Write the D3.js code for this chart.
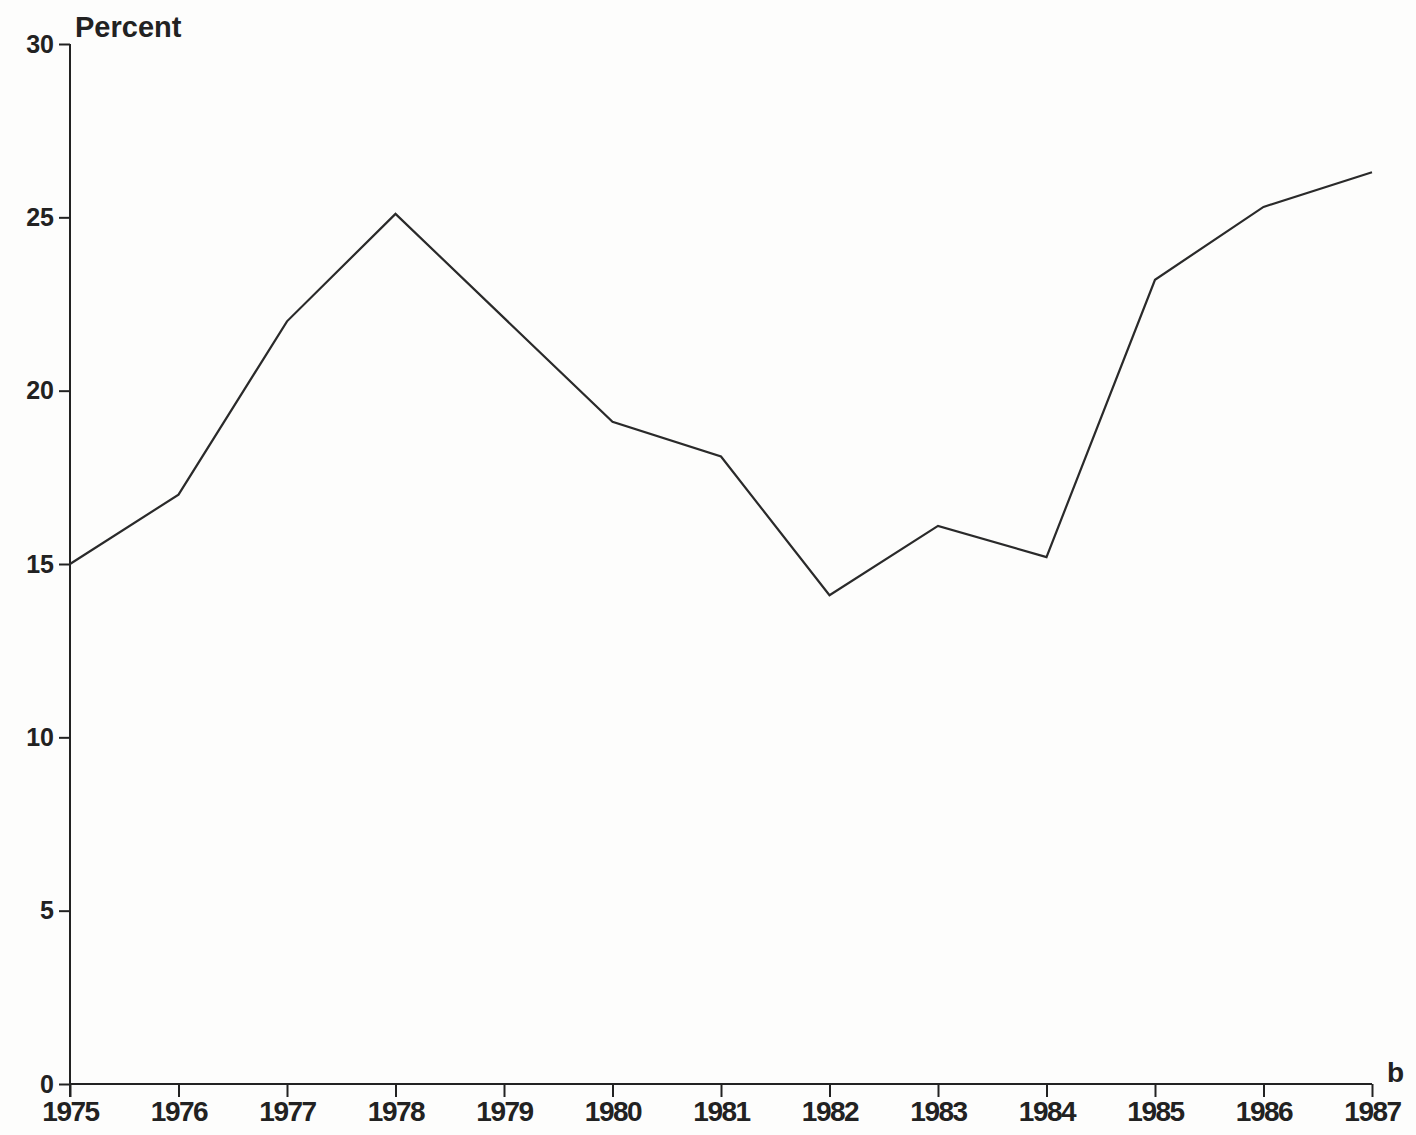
<!DOCTYPE html>
<html>
<head>
<meta charset="utf-8">
<script src="https://cdn.jsdelivr.net/npm/d3@7"></script>
<style>
  html, body { margin: 0; padding: 0; background: #fdfdfc; }
  svg text { font-family: "Liberation Sans", Arial, sans-serif; font-weight: bold; fill: #222; }
</style>
</head>
<body>
<svg id="chart" width="1416" height="1135"></svg>
<script>
const years = [1975, 1976, 1977, 1978, 1979, 1980, 1981, 1982, 1983, 1984, 1985, 1986, 1987];
const percent = [15.0, 17.0, 22.0, 25.1, 22.1, 19.1, 18.1, 14.1, 16.1, 15.2, 23.2, 25.3, 26.3];
const yTicks = [0, 5, 10, 15, 20, 25, 30];
const yLabel = "Percent";
const xLabel = "b";

const svg = d3.select("#chart");
const plotLeft = 70, plotRight = 1372, plotTop = 44, plotBottom = 1084;

const x = d3.scaleLinear().domain([1975, 1987]).range([plotLeft, plotRight]);
const y = d3.scaleLinear().domain([0, 30]).range([plotBottom, plotTop]);

// y axis
const yAxis = svg.append("g").attr("transform", `translate(${plotLeft},0)`)
  .call(d3.axisLeft(y).tickValues(yTicks).tickSize(11).tickPadding(5).tickFormat(d3.format("d")));
yAxis.select(".domain").remove();
yAxis.append("line").attr("x1", 0).attr("x2", 0).attr("y1", y(30)).attr("y2", plotBottom + 13)
  .attr("stroke", "#222").attr("stroke-width", 2);
yAxis.selectAll(".tick line").attr("stroke", "#222").attr("stroke-width", 2);
yAxis.selectAll(".tick text").attr("font-size", 25).attr("fill", "#222").attr("font-family", null);

// x axis
const xAxis = svg.append("g").attr("transform", `translate(0,${plotBottom})`)
  .call(d3.axisBottom(x).tickValues(years).tickSize(13).tickPadding(4).tickFormat(d3.format("d")));
xAxis.select(".domain").remove();
xAxis.append("line").attr("x1", plotLeft).attr("x2", plotRight).attr("y1", 0).attr("y2", 0)
  .attr("stroke", "#222").attr("stroke-width", 2);
xAxis.selectAll(".tick line").attr("stroke", "#222").attr("stroke-width", 2);
xAxis.selectAll(".tick text").attr("font-size", 28).attr("letter-spacing", -1.5).attr("fill", "#222").attr("font-family", null);

// axis titles
svg.append("text").attr("x", plotLeft + 5).attr("y", 37).attr("font-size", 29).text(yLabel);
svg.append("text").attr("x", plotRight + 15).attr("y", plotBottom - 2).attr("font-size", 28).text(xLabel);

// line
const line = d3.line().x((d, i) => x(years[i])).y(d => y(d));
svg.append("path").datum(percent)
  .attr("d", line)
  .attr("fill", "none")
  .attr("stroke", "#2a2a2a")
  .attr("stroke-width", 2.2)
  .attr("stroke-linejoin", "miter");
</script>
</body>
</html>
